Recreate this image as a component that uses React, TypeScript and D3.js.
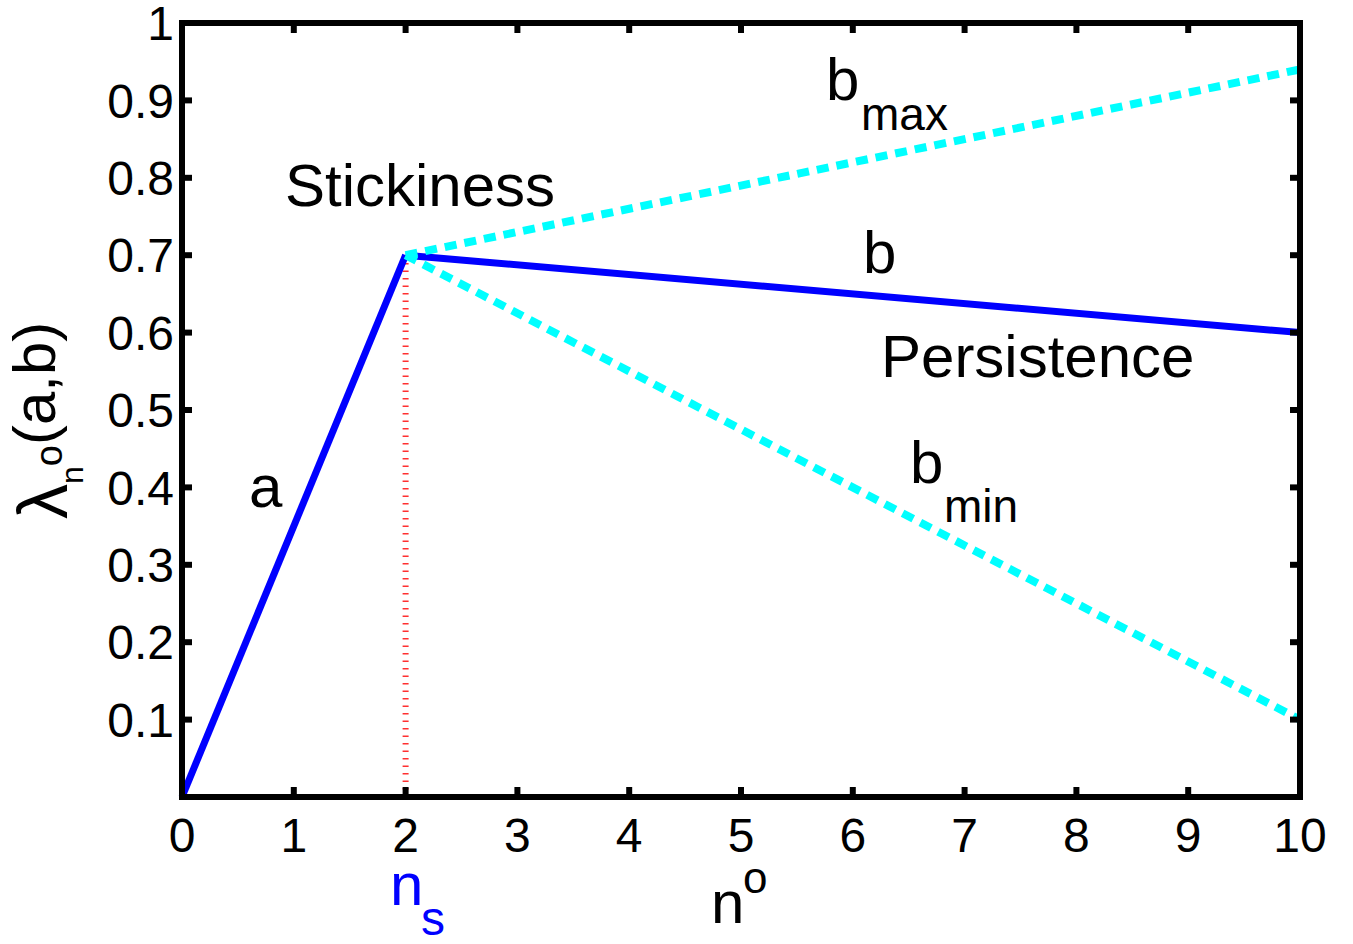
import React from "react";
import * as d3 from "d3";

// ---- data ----
const xTickValues = [0, 1, 2, 3, 4, 5, 6, 7, 8, 9, 10];
const yTickValues = [0.1, 0.2, 0.3, 0.4, 0.5, 0.6, 0.7, 0.8, 0.9, 1];
const yTickLabels = ["0.1", "0.2", "0.3", "0.4", "0.5", "0.6", "0.7", "0.8", "0.9", "1"];

const nA = [0, 2];
const lambdaA = [0, 0.7];
const nB = [2, 10];
const lambdaB = [0.7, 0.6];
const lambdaBmax = [0.7, 0.94];
const lambdaBmin = [0.7, 0.1];
const nStick = 2;
const lambdaStick = 0.7;

const W = 1353;
const H = 944;
const FONT = "'Liberation Sans', Arial, Helvetica, sans-serif";

export default function App() {
  const x = d3.scaleLinear().domain([0, 10]).range([182, 1300]);
  const y = d3.scaleLinear().domain([0, 1]).range([797, 23]);
  const line = d3
    .line<[number, number]>()
    .x((d) => x(d[0]))
    .y((d) => y(d[1]));
  const zip = (a: number[], b: number[]) => a.map((v, i) => [v, b[i]] as [number, number]);

  const [x0, x1] = x.range();
  const [y0, y1] = y.range();
  const tickLen = 10;

  return (
    <svg
      width={W}
      height={H}
      style={{ position: "absolute", left: 0, top: 0, background: "#fff" }}
      fontFamily={FONT}
    >
      <rect x={0} y={0} width={W} height={H} fill="#fff" />
      {/* red dotted guide at n_s */}
      <line
        x1={x(nStick)}
        x2={x(nStick)}
        y1={y(0)}
        y2={y(lambdaStick)}
        stroke="#ff3030"
        strokeWidth={6}
        strokeDasharray="1.5 6"
      />
      {/* blue solid lines */}
      <path d={line(zip(nA, lambdaA)) || ""} fill="none" stroke="#0000ff" strokeWidth={7} />
      <path d={line(zip(nB, lambdaB)) || ""} fill="none" stroke="#0000ff" strokeWidth={7} />
      {/* cyan dashed lines */}
      <path
        d={line(zip(nB, lambdaBmax)) || ""}
        fill="none"
        stroke="#00ffff"
        strokeWidth={8}
        strokeDasharray="12 8"
      />
      <path
        d={line(zip(nB, lambdaBmin)) || ""}
        fill="none"
        stroke="#00ffff"
        strokeWidth={8}
        strokeDasharray="12 8"
      />

      {/* axes box */}
      <rect x={x0} y={y1} width={x1 - x0} height={y0 - y1} fill="none" stroke="#000" strokeWidth={6} />
      {xTickValues.map((v) => (
        <g key={"xt" + v}>
          <line x1={x(v)} x2={x(v)} y1={y0} y2={y0 - tickLen} stroke="#000" strokeWidth={6} />
          <line x1={x(v)} x2={x(v)} y1={y1} y2={y1 + tickLen} stroke="#000" strokeWidth={6} />
          <text x={x(v)} y={852} fontSize={48} textAnchor="middle" fill="#000">
            {v}
          </text>
        </g>
      ))}
      {yTickValues.map((v, i) => (
        <g key={"yt" + v}>
          <line x1={x0} x2={x0 + tickLen} y1={y(v)} y2={y(v)} stroke="#000" strokeWidth={6} />
          <line x1={x1} x2={x1 - tickLen} y1={y(v)} y2={y(v)} stroke="#000" strokeWidth={6} />
          <text x={174} y={y(v)} dy="0.36em" fontSize={48} textAnchor="end" fill="#000">
            {yTickLabels[i]}
          </text>
        </g>
      ))}

      {/* annotations */}
      <text x={285} y={206} fontSize={60} fill="#000">Stickiness</text>
      <text x={249} y={507} fontSize={60} fill="#000">a</text>
      <text x={863} y={273} fontSize={60} fill="#000">b</text>
      <text x={881} y={377} fontSize={60} fill="#000">Persistence</text>
      <text x={826} y={100} fontSize={60} fill="#000">b</text>
      <text x={861} y={130} fontSize={46} fill="#000">max</text>
      <text x={910} y={483} fontSize={60} fill="#000">b</text>
      <text x={944} y={522} fontSize={46} fill="#000">min</text>

      {/* x-axis labels */}
      <text x={390} y={905} fontSize={60} fill="#0000ff">n</text>
      <text x={421} y={935} fontSize={48} fill="#0000ff">s</text>
      <text x={711} y={923} fontSize={60} fill="#000">n</text>
      <text x={743} y={893} fontSize={44} fill="#000">o</text>

      {/* y-axis label */}
      <text transform="translate(55,519) rotate(-90)" fontSize={60} fill="#000">
        <tspan dy={12} fontSize={70}>λ</tspan>
        <tspan dy={16} fontSize={32}>n</tspan>
        <tspan dy={-21} fontSize={38}>o</tspan>
        <tspan dy={-7}>(a,b)</tspan>
      </text>
    </svg>
  );
}
